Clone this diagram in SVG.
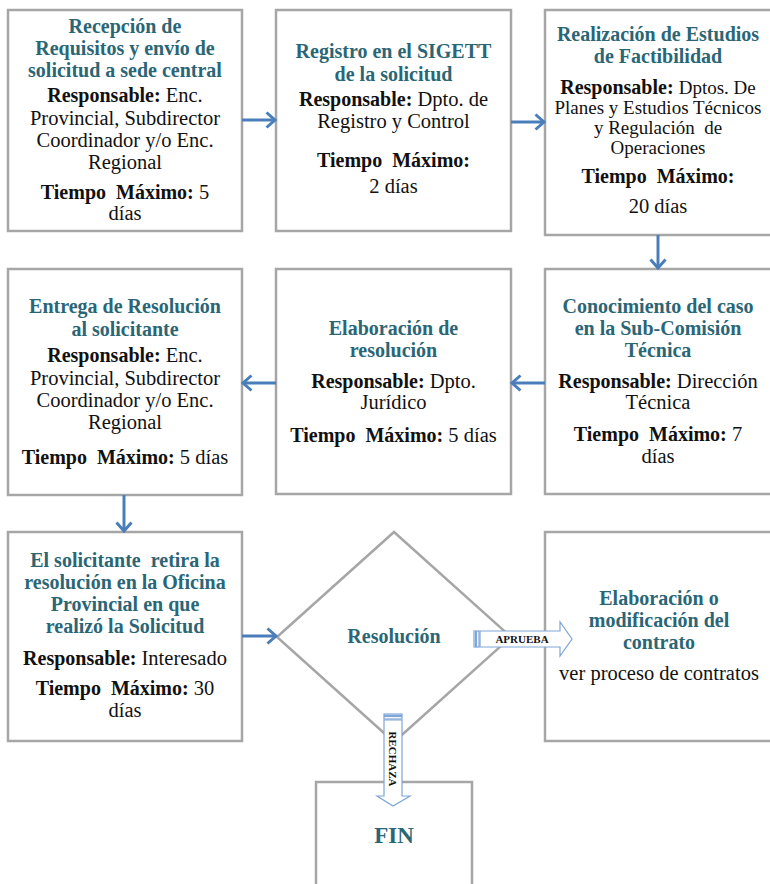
<svg xmlns="http://www.w3.org/2000/svg" width="770" height="884" viewBox="0 0 770 884">
<style>
.box{fill:#fff;stroke:#A6A6A6;stroke-width:2.5}
.ti{font-family:"Liberation Serif","Times New Roman",serif;font-weight:bold;font-size:20px;fill:#2B6676;text-anchor:middle}
.tx{font-family:"Liberation Serif","Times New Roman",serif;font-size:20.5px;fill:#111;text-anchor:middle}
.sm{font-size:19px}
.bd{font-weight:bold;font-size:20px}
.con{fill:none;stroke:#4A7EBB;stroke-width:3}
.blk{fill:#fff;stroke:#7EA6D8;stroke-width:1.2}
.lbl{font-family:"Liberation Serif","Times New Roman",serif;font-weight:bold;font-size:11px;fill:#111;text-anchor:middle}
</style>
<defs>
<marker id="ah" markerUnits="userSpaceOnUse" viewBox="0 0 12 18" markerWidth="12" markerHeight="18" refX="10" refY="9" orient="auto">
<path d="M1.5,1.5 L10,9 L1.5,16.5" fill="none" stroke="#4A7EBB" stroke-width="3"/>
</marker>
</defs>

<g id="n1">
<rect class="box" x="8" y="10" width="234" height="221"/>
<text class="ti" x="125" y="33">Recepción de</text>
<text class="ti" x="125" y="55">Requisitos y envío de</text>
<text class="ti" x="125" y="77">solicitud a sede central</text>
<text class="tx" x="125" y="102"><tspan class="bd">Responsable:</tspan> Enc.</text>
<text class="tx" x="125" y="125">Provincial, Subdirector</text>
<text class="tx" x="125" y="147">Coordinador y/o Enc.</text>
<text class="tx" x="125" y="169">Regional</text>
<text class="tx" x="125" y="199"><tspan class="bd">Tiempo&#160; Máximo:</tspan> 5</text>
<text class="tx" x="125" y="220">días</text>
</g>

<g id="n2">
<rect class="box" x="276" y="10" width="235" height="221"/>
<text class="ti" x="393.5" y="58">Registro en el SIGETT</text>
<text class="ti" x="393.5" y="81">de la solicitud</text>
<text class="tx" x="393.5" y="106"><tspan class="bd">Responsable:</tspan> Dpto. de</text>
<text class="tx" x="393.5" y="128">Registro y Control</text>
<text class="tx bd" x="393.5" y="167">Tiempo&#160; Máximo:</text>
<text class="tx" x="393.5" y="193">2 días</text>
</g>

<g id="n3">
<rect class="box" x="545" y="10" width="227" height="225"/>
<text class="ti" x="658" y="41">Realización de Estudios</text>
<text class="ti" x="658" y="63">de Factibilidad</text>
<text class="tx" x="658" y="94"><tspan class="bd">Responsable:</tspan> <tspan style="font-size:19px">Dptos. De</tspan></text>
<text class="tx sm" x="658" y="114">Planes y Estudios Técnicos</text>
<text class="tx sm" x="658" y="134">y Regulación&#160; de</text>
<text class="tx sm" x="658" y="154">Operaciones</text>
<text class="tx bd" x="658" y="183">Tiempo&#160; Máximo:</text>
<text class="tx" x="658" y="213">20 días</text>
</g>

<g id="n4">
<rect class="box" x="8" y="269" width="234" height="226"/>
<text class="ti" x="125" y="313">Entrega de Resolución</text>
<text class="ti" x="125" y="336">al solicitante</text>
<text class="tx" x="125" y="362"><tspan class="bd">Responsable:</tspan> Enc.</text>
<text class="tx" x="125" y="385">Provincial, Subdirector</text>
<text class="tx" x="125" y="407">Coordinador y/o Enc.</text>
<text class="tx" x="125" y="429">Regional</text>
<text class="tx" x="125" y="464"><tspan class="bd">Tiempo&#160; Máximo:</tspan> 5 días</text>
</g>

<g id="n5">
<rect class="box" x="276" y="269" width="235" height="225"/>
<text class="ti" x="393.5" y="335">Elaboración de</text>
<text class="ti" x="393.5" y="357">resolución</text>
<text class="tx" x="393.5" y="388"><tspan class="bd">Responsable:</tspan> Dpto.</text>
<text class="tx" x="393.5" y="409">Jurídico</text>
<text class="tx" x="393.5" y="442"><tspan class="bd">Tiempo&#160; Máximo:</tspan> 5 días</text>
</g>

<g id="n6">
<rect class="box" x="545" y="269" width="227" height="225"/>
<text class="ti" x="658" y="313">Conocimiento del caso</text>
<text class="ti" x="658" y="335">en la Sub-Comisión</text>
<text class="ti" x="658" y="357">Técnica</text>
<text class="tx" x="658" y="388"><tspan class="bd">Responsable:</tspan> Dirección</text>
<text class="tx" x="658" y="409">Técnica</text>
<text class="tx" x="658" y="441"><tspan class="bd">Tiempo&#160; Máximo:</tspan> 7</text>
<text class="tx" x="658" y="463">días</text>
</g>

<g id="n7">
<rect class="box" x="8" y="532" width="234" height="209"/>
<text class="ti" x="125" y="567">El solicitante&#160; retira la</text>
<text class="ti" x="125" y="589">resolución en la Oficina</text>
<text class="ti" x="125" y="611">Provincial en que</text>
<text class="ti" x="125" y="633">realizó la Solicitud</text>
<text class="tx" x="125" y="665"><tspan class="bd">Responsable:</tspan> Interesado</text>
<text class="tx" x="125" y="695"><tspan class="bd">Tiempo&#160; Máximo:</tspan> 30</text>
<text class="tx" x="125" y="717">días</text>
</g>

<g id="n8">
<polygon class="box" points="277,637 394,532 511,637 394,742"/>
<text class="ti" x="394" y="643">Resolución</text>
</g>

<g id="n9">
<rect class="box" x="545" y="532" width="227" height="209"/>
<text class="ti" x="659" y="605">Elaboración o</text>
<text class="ti" x="659" y="627">modificación del</text>
<text class="ti" x="659" y="649">contrato</text>
<text class="tx" x="659" y="680">ver proceso de contratos</text>
</g>

<g id="n10">
<rect class="box" x="316" y="782" width="156" height="110"/>
<text class="ti" x="394" y="843" style="font-size:23px">FIN</text>
</g>

<g id="connectors">
<line class="con" x1="242" y1="120" x2="275" y2="120" marker-end="url(#ah)"/>
<line class="con" x1="511" y1="122" x2="544" y2="122" marker-end="url(#ah)"/>
<line class="con" x1="658" y1="235" x2="658" y2="268" marker-end="url(#ah)"/>
<line class="con" x1="545" y1="383" x2="512" y2="383" marker-end="url(#ah)"/>
<line class="con" x1="276" y1="383" x2="243" y2="383" marker-end="url(#ah)"/>
<line class="con" x1="124" y1="495" x2="124" y2="531" marker-end="url(#ah)"/>
<line class="con" x1="242" y1="636" x2="276" y2="636" marker-end="url(#ah)"/>
<g id="aprueba">
<rect class="blk" x="474" y="631" width="1.5" height="16"/>
<rect class="blk" x="476.5" y="631" width="2.5" height="16"/>
<polygon class="blk" points="480,631 560,631 560,622 572,639 560,656 560,647 480,647"/>
<text class="lbl" x="522" y="643">APRUEBA</text>
</g>
<g id="rechaza">
<rect class="blk" x="384" y="714" width="18" height="1.5"/>
<rect class="blk" x="384" y="716.5" width="18" height="2.5"/>
<polygon class="blk" points="384,720 402,720 402,796 410,796 393,806 377,796 384,796"/>
<text class="lbl" transform="translate(389,759) rotate(90)" x="0" y="0">RECHAZA</text>
</g>
</g>
</svg>
